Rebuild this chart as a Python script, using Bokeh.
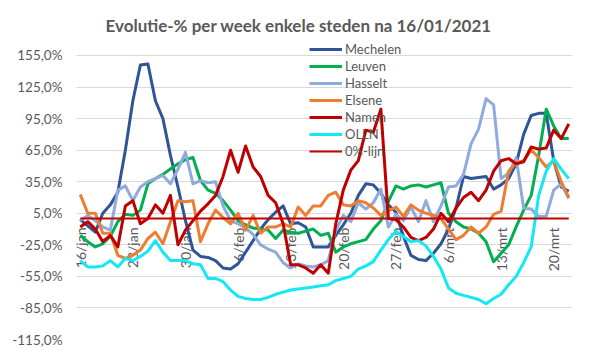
import math
from bokeh.plotting import figure
from bokeh.models import Range1d, FixedTicker, Legend, LegendItem
from bokeh.embed import file_html
from bokeh.resources import INLINE
from bokeh.core.properties import value

# ---- data (66 daily points, 16/jan .. 22/mrt) ----
tick_labels = ["16/jan", "23/jan", "30/jan", "6/feb", "13/feb", "20/feb", "27/feb", "6/mrt", "13/mrt", "20/mrt"]
tick_index = [0, 7, 14, 21, 28, 35, 42, 49, 56, 63]

y_ticks = [155, 125, 95, 65, 35, 5, -25, -55, -85, -115]
y_tick_labels = ["155,0%", "125,0%", "95,0%", "65,0%", "35,0%", "5,0%", "-25,0%", "-55,0%", "-85,0%", "-115,0%"]

mechelen = [-1, -7, -13, 5, 13, 25, 65, 112, 146, 147, 112, 95, 60, 30, -2, -30, -36, -37, -40, -47,
            -48, -43, -32, -21, -10, -1, 6, 12, -5, -4, -8, -27, -27, -27, -16, -6, 5, 22, 33, 32,
            24, 13, 6, -17, -35, -39, -40, -33, -24, -10, 10, 40, 38, 39, 40, 28, 32, 38, 52, 80,
            98, 100, 100, 55, 30, 26]
leuven = [-16, -22, -27, -24, -17, -3, 4, 3, 8, 33, 38, 42, 47, 52, 56, 58, 36, 27, 24, 17,
          8, -2, -6, -9, -10, -11, -19, -11, -13, -14, -12, -10, -16, -14, -32, -27, -24, -22, -20, -10,
          -2, 16, 31, 28, 31, 32, 30, 32, 34, 5, -3, -8, -10, -14, -22, -41, -33, -25, -8, 8,
          22, 60, 104, 88, 76, 76]
hasselt = [-2, 3, -2, -8, -11, 27, 31, 17, 30, 35, 38, 41, 33, 47, 63, 33, 36, 34, 35, 12,
           -2, -5, -9, -15, -25, -29, -32, -42, -47, -43, -45, -46, -44, -40, -11, 3, -3, 15, 9, 15,
           28, -8, 4, -2, 11, -3, 17, -3, 12, 30, 31, 42, 71, 85, 114, 108, 38, 43, 58, 10,
           9, 2, 2, 27, 33, 19]
elsene = [23, 5, 5, -14, -14, -35, -38, -35, -30, -19, -13, -24, -3, 17, 16, 17, -22, -5, 8, 1,
          -5, 5, -11, 3, -14, -8, -8, -5, -8, 11, 3, 12, 12, 22, 25, 13, 12, 17, 15, 10,
          3, 7, 11, 2, 13, 8, 5, 3, 0, -10, -20, -16, -8, -14, -8, 4, 7, 45, 53, 55,
          65, 58, 49, 55, 35, 20]
namen = [-8, -3, -10, -22, -16, -27, 12, 17, -5, 0, 13, 5, 22, -25, -11, -2, 7, 14, 22, 40,
         65, 44, 69, 49, 40, 22, 15, -5, -44, -44, -47, -52, -44, -52, -5, 27, 46, 55, 84, 82,
         104, 0, -1, -8, -18, -21, -18, -10, 5, -3, 10, 20, 25, 17, 27, 45, 55, 57, 52, 54,
         68, 66, 67, 84, 76, 90]
olln = [-40, -46, -46, -45, -40, -46, -38, -40, -36, -31, -21, -32, -40, -40, -40, -43, -44, -57, -57, -60,
        -68, -74, -76, -77, -77, -75, -72, -70, -68, -67, -66, -65, -64, -63, -59, -57, -55, -48, -45, -41,
        -30, -20, -12, -17, -22, -21, -26, -36, -48, -66, -71, -73, -75, -77, -81, -76, -72, -63, -55, -42,
        -27, 22, 45, 57, 47, 38]
nul_lijn = [0, 0, 0, 0, 0, 0, 0, 0, 0, 0, 0, 0, 0, 0, 0, 0, 0, 0, 0, 0,
            0, 0, 0, 0, 0, 0, 0, 0, 0, 0, 0, 0, 0, 0, 0, 0, 0, 0, 0, 0,
            0, 0, 0, 0, 0, 0, 0, 0, 0, 0, 0, 0, 0, 0, 0, 0, 0, 0, 0, 0,
            0, 0, 0, 0, 0, 0]

series_names = ["Mechelen", "Leuven", "Hasselt", "Elsene", "Namen", "OLLN", "0%-lijn"]
series_values = [mechelen, leuven, hasselt, elsene, namen, olln, nul_lijn]
series_colors = ["#2F5597", "#00B050", "#8FAADC", "#ED7D31", "#C00000", "#13E8F5", "#C00000"]
series_widths = [3, 3, 3, 3, 3, 3, 2]

xs = list(range(len(mechelen)))

FONT = "Lato"
GREY = "#595959"

# frame: x 76..572, y 36..339 (155% gridline at y=55, -115% at y=339)
p = figure(width=591, height=351, output_backend="svg", toolbar_location=None,
           x_range=Range1d(-0.5, 65.5), y_range=Range1d(-115, 173.06),
           min_border_left=76, min_border_right=19, min_border_top=36, min_border_bottom=12)

p.title.text = "Evolutie-% per week enkele steden na 16/01/2021"
p.title.text_font = FONT
p.title.text_font_style = "bold"
p.title.text_font_size = "17px"
p.title.text_color = GREY
p.title.align = "left"
p.title.offset = 29
p.title.standoff = 2

p.outline_line_color = None
p.background_fill_color = "white"
p.border_fill_color = "white"

p.xaxis.visible = False
p.xgrid.visible = False
p.ygrid.grid_line_color = "#D9D9D9"
p.ygrid.grid_line_width = 1

p.yaxis.ticker = FixedTicker(ticks=y_ticks)
p.yaxis.major_label_overrides = {float(t): l for t, l in zip(y_ticks, y_tick_labels)}
p.yaxis.axis_line_color = None
p.yaxis.major_tick_line_color = None
p.yaxis.minor_tick_line_color = None
p.yaxis.major_tick_out = 0
p.yaxis.major_tick_in = 0
p.yaxis.major_label_standoff = 14
p.yaxis.major_label_text_font = FONT
p.yaxis.major_label_text_font_size = "13.5px"
p.yaxis.major_label_text_color = GREY

# category labels hanging below the 0% line
p.text(x=tick_index, y=[0] * len(tick_index), text=tick_labels, angle=math.pi / 2,
       text_align="right", text_baseline="middle", y_offset=9,
       text_font=value(FONT), text_font_size="14px", text_color=GREY)

items = []
for name, vals, col, w in zip(series_names, series_values, series_colors, series_widths):
    r = p.line(xs, vals, line_color=col, line_width=w, line_join="round")
    items.append(LegendItem(label=name, renderers=[r]))

legend = Legend(items=items, location=(233, 180), orientation="vertical",
                background_fill_alpha=0, border_line_alpha=0, padding=0, margin=0,
                spacing=1, glyph_height=16, glyph_width=33, label_height=16,
                label_standoff=3, label_text_font=FONT, label_text_font_size="13px",
                label_text_color=GREY)
p.add_layout(legend)

open("out.html", "w").write(file_html(p, INLINE))
